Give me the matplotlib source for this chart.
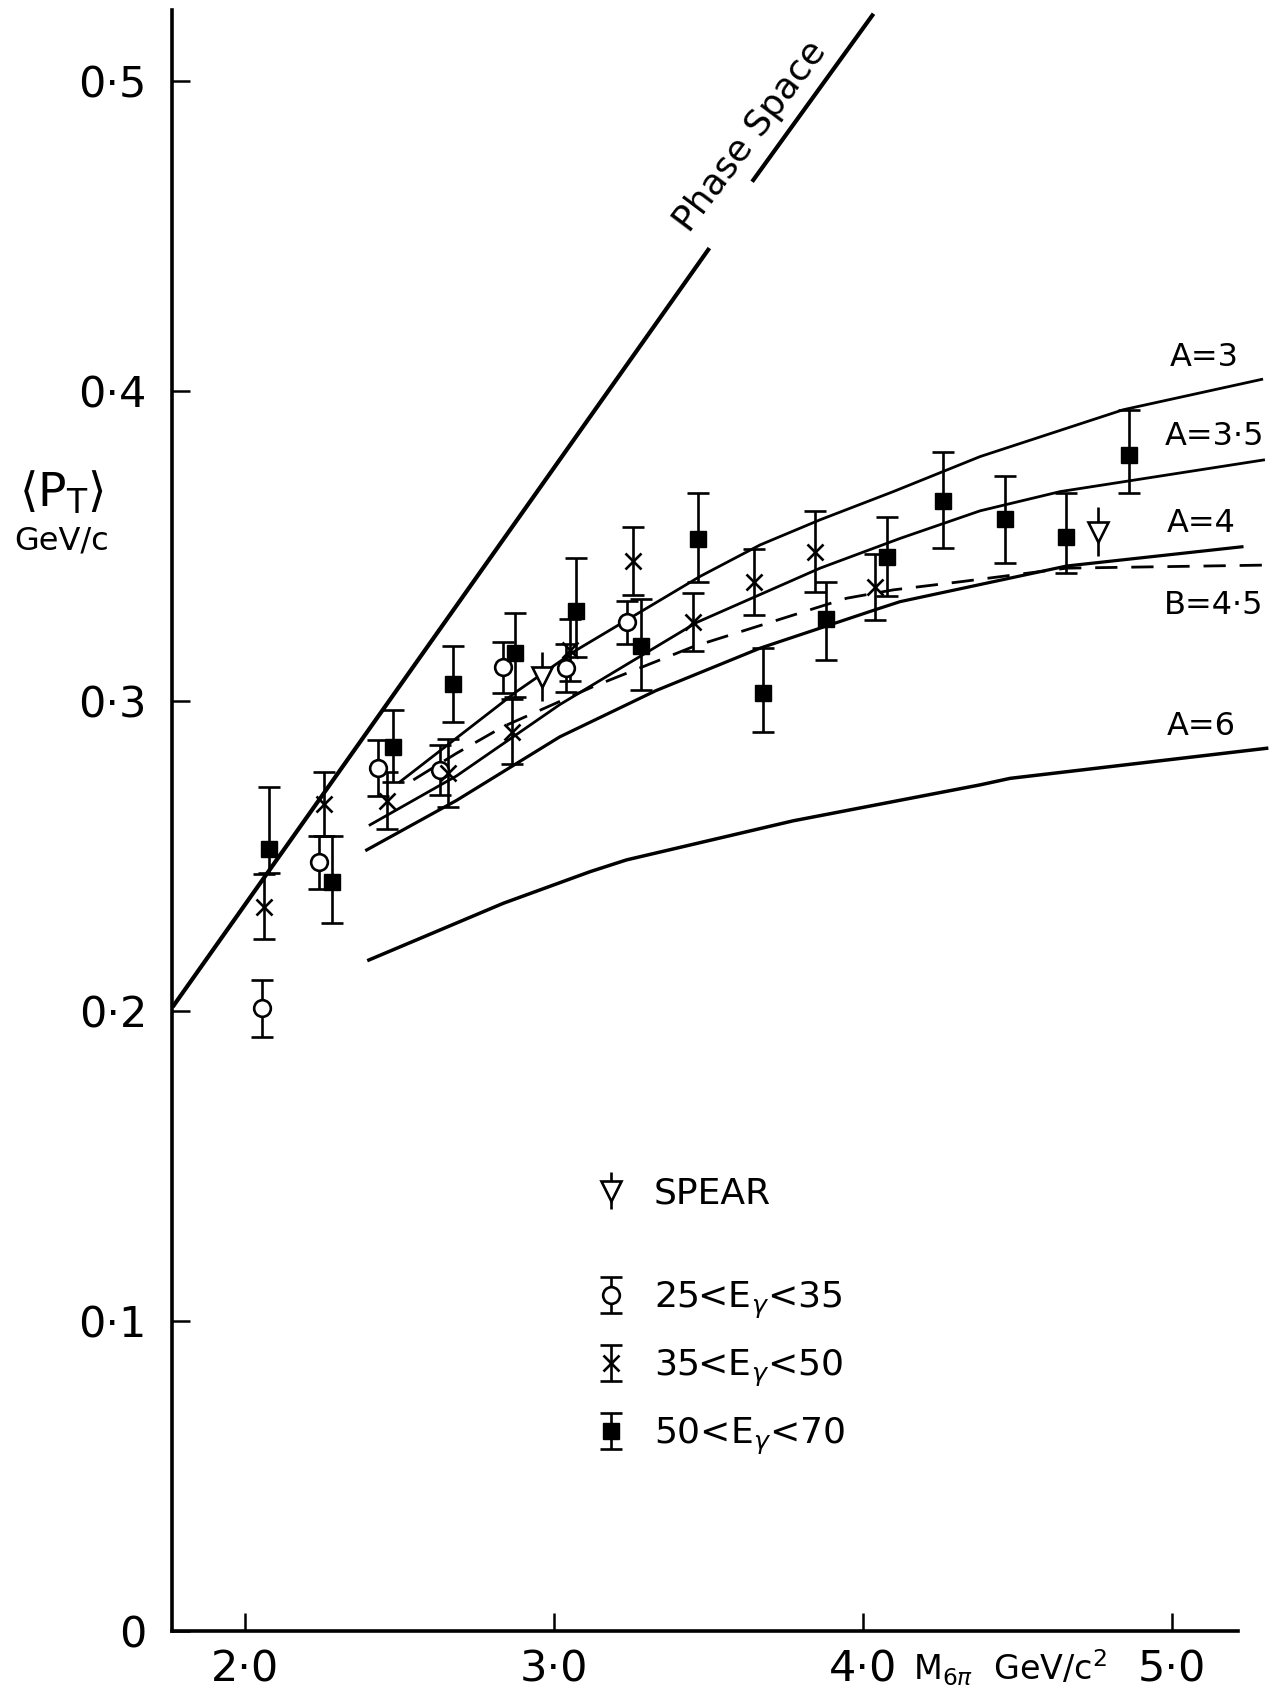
import matplotlib.pyplot as plt
import numpy as np

plt.rcParams['font.family'] = 'DejaVu Sans'
plt.rcParams['mathtext.fontset'] = 'dejavusans'

# data
# 25 < E_gamma < 35 (open circles)
circle_x = [2.054, 2.239, 2.431, 2.631, 2.834, 3.038, 3.235]
circle_y = [0.2010, 0.2481, 0.2785, 0.2779, 0.3110, 0.3107, 0.3255]
circle_err = [0.0093, 0.0085, 0.0091, 0.0081, 0.0083, 0.0078, 0.0070]

# 35 < E_gamma < 50 (crosses)
cross_x = [2.062, 2.256, 2.459, 2.656, 2.863, 3.053, 3.257, 3.451, 3.648, 3.845, 4.039]
cross_y = [0.2338, 0.2670, 0.2680, 0.2770, 0.2903, 0.3165, 0.3454, 0.3257, 0.3386, 0.3483, 0.3370]
cross_err = [0.0104, 0.0103, 0.0091, 0.0110, 0.0104, 0.0100, 0.0110, 0.0093, 0.0106, 0.0130, 0.0107]

# 50 < E_gamma < 70 (filled squares)
square_x = [2.078, 2.281, 2.480, 2.674, 2.874, 3.071, 3.282, 3.467, 3.677, 3.879,
            4.079, 4.258, 4.460, 4.656, 4.862]
square_y = [0.2523, 0.2419, 0.2854, 0.3056, 0.3155, 0.3293, 0.3180, 0.3523, 0.3026, 0.3266,
            0.3465, 0.3647, 0.3588, 0.3532, 0.3795]
square_lo = [0.0075, 0.0132, 0.0113, 0.0122, 0.0142, 0.0150, 0.0143, 0.0137, 0.0126, 0.0133,
             0.0124, 0.0153, 0.0142, 0.0119, 0.0124]
square_hi = [0.0202, 0.0148, 0.0120, 0.0122, 0.0129, 0.0169, 0.0149, 0.0148, 0.0148, 0.0120,
             0.0131, 0.0159, 0.0138, 0.0142, 0.0145]

# SPEAR
spear_x = [2.960, 4.759]
spear_y = [0.3080, 0.3548]
spear_err = [0.0078, 0.0078]

# model curves
a3_x = [2.502, 2.879, 3.073, 3.472, 3.667, 3.861, 4.098, 4.379, 4.842, 5.290]
a3_y = [0.2741, 0.3032, 0.3166, 0.3403, 0.3505, 0.3586, 0.3677, 0.3790, 0.3941, 0.4039]
a35_x = [2.405, 2.685, 3.019, 3.462, 3.861, 4.120, 4.379, 4.638, 5.296]
a35_y = [0.2602, 0.2760, 0.2990, 0.3255, 0.3430, 0.3526, 0.3615, 0.3677, 0.3779]
a4_x = [2.394, 2.685, 3.019, 3.330, 3.667, 4.055, 4.120, 4.659, 5.226]
a4_y = [0.2521, 0.2681, 0.2886, 0.3035, 0.3172, 0.3301, 0.3322, 0.3437, 0.3499]
b45_x = [2.545, 2.685, 2.836, 3.127, 3.451, 3.947, 4.098, 4.314, 4.659, 5.306]
b45_y = [0.2747, 0.2833, 0.2919, 0.3048, 0.3177, 0.3333, 0.3360, 0.3386, 0.3430, 0.3440]
a6_x = [2.401, 2.836, 3.117, 3.235, 3.774, 4.379, 4.476, 5.306]
a6_y = [0.2166, 0.2349, 0.2451, 0.2489, 0.2615, 0.2731, 0.2752, 0.2849]
phase_x = [1.770, 3.499, np.nan, 3.645, 4.030]
phase_y = [0.202, 0.4457, np.nan, 0.4682, 0.5213]

curve_labels = ['A=3', 'A=3·5', 'A=4', 'B=4·5', 'A=6']
label_x = [4.993, 4.975, 4.984, 4.975, 4.984]
label_y = [0.4110, 0.3855, 0.3574, 0.3311, 0.2919]

xticks = [2, 3, 4, 5]
xtick_labels = ['2·0', '3·0', '4·0', '5·0']
yticks = [0, 0.1, 0.2, 0.3, 0.4, 0.5]
ytick_labels = ['0', '0·1', '0·2', '0·3', '0·4', '0·5']

fig = plt.figure(figsize=(12.73, 16.97), dpi=100)
ax = fig.add_axes([0.1351, 0.0386, 0.8633, 0.9609])
ax.set_xlim(1.764, 5.32)
ax.set_ylim(0, 0.526)

ax.plot(phase_x, phase_y, color='black', lw=3.0)
ax.plot(a3_x, a3_y, color='black', lw=2.0)
ax.plot(a35_x, a35_y, color='black', lw=2.0)
ax.plot(a4_x, a4_y, color='black', lw=2.3)
ax.plot(b45_x, b45_y, color='black', lw=2.0, linestyle=(0, (8, 5)))
ax.plot(a6_x, a6_y, color='black', lw=2.5)

ax.text(3.634, 0.4822, 'Phase Space', rotation=53, rotation_mode='anchor',
        ha='center', va='center', fontsize=26)
for lab, lx, ly in zip(curve_labels, label_x, label_y):
    ax.text(lx, ly, lab, fontsize=23, ha='left', va='center', clip_on=False)

eb = dict(ecolor='black', elinewidth=1.9, capthick=1.9, linestyle='none', zorder=3)
h_c = ax.errorbar(circle_x, circle_y, yerr=circle_err, fmt='o', ms=12, mfc='white',
                  mec='black', mew=1.9, capsize=8, **eb)
h_x = ax.errorbar(cross_x, cross_y, yerr=cross_err, fmt='x', ms=11, color='black',
                  mew=1.9, capsize=8, **eb)
h_s = ax.errorbar(square_x, square_y, yerr=[square_lo, square_hi], fmt='s', ms=11,
                  color='black', capsize=8, **eb)
h_sp = ax.errorbar(spear_x, spear_y, yerr=spear_err, fmt='v', ms=15, mfc='white',
                   mec='black', mew=1.9, capsize=0, **eb)

leg1 = ax.legend([h_sp], ['SPEAR'], loc='center left', bbox_to_anchor=(3.125, 0.1414),
                 bbox_transform=ax.transData, frameon=False, fontsize=26,
                 handlelength=1.0, handletextpad=0.7, borderpad=0, borderaxespad=0)
ax.add_artist(leg1)
ax.legend([h_c, h_x, h_s],
          [r'25<E$_{\gamma}$<35', r'35<E$_{\gamma}$<50', r'50<E$_{\gamma}$<70'],
          loc='center left', bbox_to_anchor=(3.125, 0.0849), bbox_transform=ax.transData,
          frameon=False, fontsize=26, handlelength=1.0, handletextpad=0.7,
          borderpad=0, borderaxespad=0, labelspacing=0.75)

ax.set_xticks(xticks)
ax.set_xticklabels(xtick_labels)
ax.set_yticks(yticks)
ax.set_yticklabels(ytick_labels)
ax.tick_params(direction='in', length=13, width=1.8, labelsize=31)
ax.tick_params(axis='x', pad=12)
ax.tick_params(axis='y', pad=18)

for s in ['top', 'right']:
    ax.spines[s].set_visible(False)
ax.spines['left'].set_linewidth(2.6)
ax.spines['bottom'].set_linewidth(2.6)
ax.spines['left'].set_bounds(0, 0.523)
ax.spines['bottom'].set_bounds(1.764, 5.214)

fig.text(0.0487, 0.7098, r'$\langle$P$_{\rm T}$$\rangle$', fontsize=34, ha='center', va='center')
fig.text(0.0487, 0.6812, 'GeV/c', fontsize=23, ha='center', va='center')
fig.text(913 / 1273, 1 - 1668 / 1697, r'M$_{6\pi}$  GeV/c$^{2}$', fontsize=24,
         ha='left', va='center')

fig.savefig('out.png', dpi=100)
